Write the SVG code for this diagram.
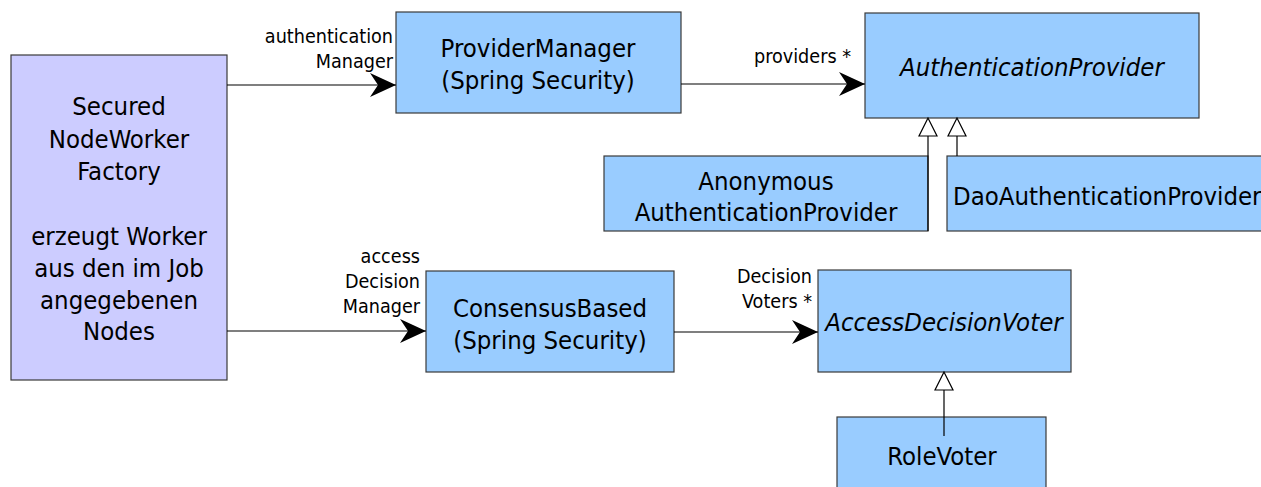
<svg xmlns="http://www.w3.org/2000/svg" width="1261" height="487" viewBox="0 0 1261 487">
<style>
.n{fill:#99ccff;stroke:#3a3a3a;stroke-width:1.2}
.f{fill:#ccccff;stroke:#3a3a3a;stroke-width:1.2}
text{font-family:'DejaVu Sans Condensed','DejaVu Sans',sans-serif;font-stretch:condensed;fill:#000}
.t{font-size:25.5px;text-anchor:middle}
.i{font-style:italic}
.l{font-size:19.6px;text-anchor:end}
.c{stroke:#000;stroke-width:1.2;fill:none}
.h{fill:#fff;stroke:#000;stroke-width:1.2}
</style>
<defs>
<marker id="a" viewBox="0 0 26 26" refX="26" refY="13" markerWidth="26" markerHeight="26" markerUnits="userSpaceOnUse" orient="auto">
<path d="M0,1 L26,13 L0,25 L8,13 Z" fill="#000"/>
</marker>
</defs>
<rect width="1261" height="487" fill="#fff"/>
<g id="factory">
<rect class="f" x="11" y="55" width="216" height="325"/>
<text class="t" x="119" y="115">Secured</text>
<text class="t" x="119" y="148">NodeWorker</text>
<text class="t" x="119" y="180">Factory</text>
<text class="t" x="119" y="245">erzeugt Worker</text>
<text class="t" x="119" y="277">aus den im Job</text>
<text class="t" x="119" y="309">angegebenen</text>
<text class="t" x="119" y="340">Nodes</text>
</g>
<g id="providerManager">
<rect class="n" x="396" y="12" width="285" height="101"/>
<text class="t" x="538" y="57">ProviderManager</text>
<text class="t" x="538" y="89">(Spring Security)</text>
</g>
<g id="authProvider">
<rect class="n" x="865" y="13" width="334" height="105"/>
<text class="t i" x="1032" y="76">AuthenticationProvider</text>
</g>
<g id="anonProvider">
<rect class="n" x="604" y="156" width="324" height="75"/>
<text class="t" x="766" y="190">Anonymous</text>
<text class="t" x="766" y="221">AuthenticationProvider</text>
</g>
<g id="daoProvider">
<rect class="n" x="947" y="156" width="330" height="75"/>
<text class="t" x="953" y="205" style="text-anchor:start">DaoAuthenticationProvider</text>
</g>
<g id="consensus">
<rect class="n" x="426" y="271" width="248" height="101"/>
<text class="t" x="550" y="317">ConsensusBased</text>
<text class="t" x="550" y="349">(Spring Security)</text>
</g>
<g id="voter">
<rect class="n" x="818" y="270" width="253" height="102"/>
<text class="t i" x="944" y="331">AccessDecisionVoter</text>
</g>
<g id="roleVoter">
<rect class="n" x="837" y="417" width="209" height="80"/>
<text class="t" x="942" y="465">RoleVoter</text>
</g>
<g id="connectors">
<path class="c" d="M227,85 H396" marker-end="url(#a)"/>
<text class="l" x="393" y="43">authentication</text>
<text class="l" x="393" y="68">Manager</text>
<path class="c" d="M681,84 H865" marker-end="url(#a)"/>
<text class="l" x="851" y="63">providers *</text>
<path class="c" d="M227,331 H426" marker-end="url(#a)"/>
<text class="l" x="420" y="263">access</text>
<text class="l" x="420" y="288">Decision</text>
<text class="l" x="420" y="313">Manager</text>
<path class="c" d="M674,332 H818" marker-end="url(#a)"/>
<text class="l" x="812" y="283">Decision</text>
<text class="l" x="812" y="308">Voters *</text>
<path class="c" d="M928,136 V231"/>
<path class="h" d="M928,118 L919,136 L937,136 Z"/>
<path class="c" d="M957,136 V156"/>
<path class="h" d="M957,118 L948,136 L966,136 Z"/>
<path class="c" d="M944,390 V436"/>
<path class="h" d="M944,372 L935,390 L953,390 Z"/>
</g>
</svg>
